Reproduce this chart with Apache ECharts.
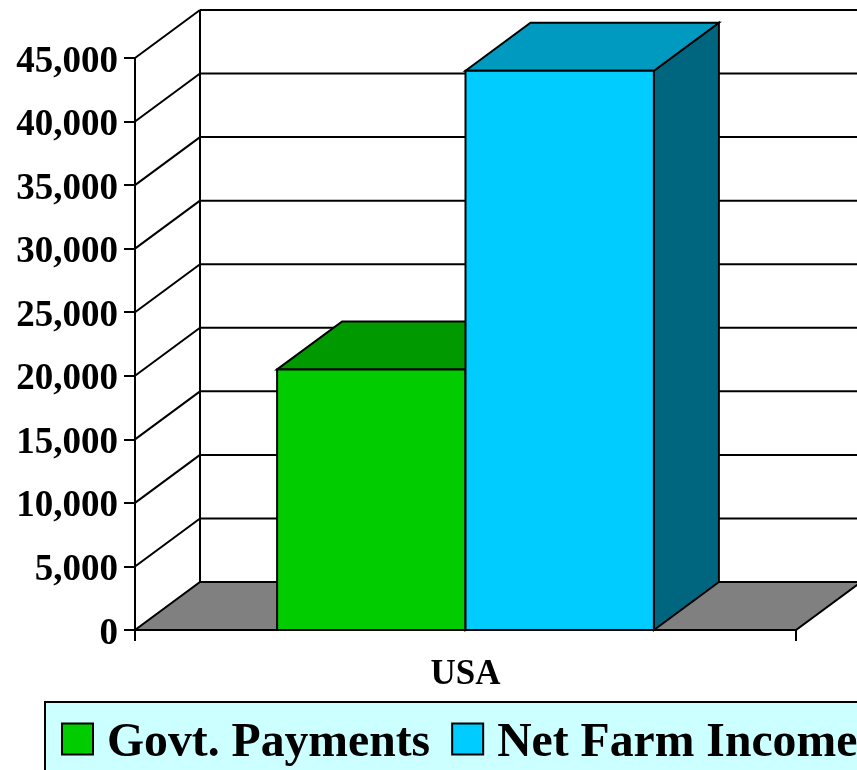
<!DOCTYPE html>
<html>
<head>
<meta charset="utf-8">
<title>USA</title>
<script src="https://cdn.jsdelivr.net/npm/echarts@6/dist/echarts.min.js"></script>
<style>
html, body { margin: 0; padding: 0; background: #fff; overflow: hidden; }
#chart { width: 857px; height: 770px; }
</style>
</head>
<body>
<div id="chart"></div>
<script>
var categories = ['USA'];
var seriesNames = ['Govt. Payments', 'Net Farm Income'];
var govtPayments = [20500];
var netFarmIncome = [44000];
var tickValues = [0, 5000, 10000, 15000, 20000, 25000, 30000, 35000, 40000, 45000];

var fontName = '"Liberation Serif", "Times New Roman", serif';
var depthX = 65;
var depthY = -48;
var barShare = 0.285;
var xTickLength = 11;

function line_shape(x1, y1, x2, y2) {
    return {
        type: 'line',
        shape: {x1: x1, y1: y1, x2: x2, y2: y2},
        style: {stroke: '#000', lineWidth: 2, fill: null}
    };
}

function poly_shape(points, color) {
    return {
        type: 'polygon',
        shape: {points: points},
        style: {fill: color, stroke: '#000', lineWidth: 2, lineJoin: 'miter'}
    };
}

// 背面和左面的网格线
function render_wall(params, api) {
    var value = api.value(1);
    var p = api.coord([0, value]);
    var band = api.size([1, 0])[0];
    var left = p[0] - band / 2;
    var right = p[0] + band / 2;
    var children = [];
    if (value === 0) {
        var top = api.coord([0, tickValues[tickValues.length - 1]]);
        children.push(poly_shape([
            [left, p[1]], [right, p[1]],
            [right + depthX, p[1] + depthY], [left + depthX, p[1] + depthY]
        ], '#808080'));
        children.push(line_shape(left + depthX, p[1] + depthY, left + depthX, top[1] + depthY));
        // x轴两端的刻度
        children.push(line_shape(left, p[1], left, p[1] + xTickLength));
        children.push(line_shape(right, p[1], right, p[1] + xTickLength));
    } else {
        children.push(line_shape(left, p[1], left + depthX, p[1] + depthY));
        children.push(line_shape(left + depthX, p[1] + depthY, right + depthX, p[1] + depthY));
    }
    return {type: 'group', children: children};
}

function get_bar_render(offset, frontColor, topColor, sideColor) {
    return function (params, api) {
        var p = api.coord([api.value(0), api.value(1)]);
        var base = api.coord([api.value(0), 0]);
        var band = api.size([1, 0])[0];
        var width = band * barShare;
        var x1 = p[0] + offset * width;
        var x2 = x1 + width;
        return {
            type: 'group',
            children: [
                poly_shape([[x2, p[1]], [x2 + depthX, p[1] + depthY], [x2 + depthX, base[1] + depthY], [x2, base[1]]], sideColor),
                poly_shape([[x1, p[1]], [x1 + depthX, p[1] + depthY], [x2 + depthX, p[1] + depthY], [x2, p[1]]], topColor),
                poly_shape([[x1, p[1]], [x2, p[1]], [x2, base[1]], [x1, base[1]]], frontColor)
            ]
        };
    };
}

function get_option() {
    var wallData = [];
    for (var i = 0; i < tickValues.length; i++) {
        wallData.push([0, tickValues[i]]);
    }
    return {
        animation: false,
        backgroundColor: '#fff',
        legend: {
            left: 45,
            top: 702,
            width: 1000,
            padding: [18, 40, 20, 16],
            itemGap: 21,
            itemWidth: 31,
            itemHeight: 31,
            icon: 'rect',
            backgroundColor: '#ccffff',
            borderColor: '#000',
            borderWidth: 2,
            itemStyle: {borderColor: '#000', borderWidth: 2},
            formatter: '{t|{name}}',
            textStyle: {
                fontFamily: fontName,
                fontWeight: 'bold',
                fontSize: 47.7,
                color: '#000',
                rich: {
                    t: {
                        fontFamily: fontName,
                        fontWeight: 'bold',
                        fontSize: 47.7,
                        color: '#000',
                        padding: [10, 0, 0, 9]
                    }
                }
            },
            data: seriesNames
        },
        grid: {left: 135, top: 58, width: 661, height: 572},
        xAxis: {
            type: 'category',
            data: categories,
            axisLine: {lineStyle: {color: '#000', width: 2}},
            axisTick: {show: false},
            axisLabel: {
                margin: 27,
                color: '#000',
                fontFamily: fontName,
                fontWeight: 'bold',
                fontSize: 35
            }
        },
        yAxis: {
            type: 'value',
            min: 0,
            max: 45000,
            interval: 5000,
            splitLine: {show: false},
            axisLine: {show: true, lineStyle: {color: '#000', width: 2}},
            axisTick: {show: true, length: 11, lineStyle: {color: '#000', width: 2}},
            axisLabel: {
                margin: 17,
                formatter: function (v) {
                    return '{t|' + v.toString().replace(/\B(?=(\d{3})+$)/g, ',') + '}';
                },
                rich: {
                    t: {
                        color: '#000',
                        fontFamily: fontName,
                        fontWeight: 'bold',
                        fontSize: 37,
                        padding: [8, 0, 0, 0]
                    }
                }
            }
        },
        series: [
            {
                name: 'walls',
                type: 'custom',
                renderItem: render_wall,
                encode: {x: 0, y: 1},
                data: wallData,
                silent: true,
                z: 1
            },
            {
                name: seriesNames[0],
                type: 'custom',
                renderItem: get_bar_render(-1, '#00cc00', '#009900', '#006600'),
                encode: {x: 0, y: 1},
                itemStyle: {color: '#00cc00'},
                data: [[0, govtPayments[0]]],
                z: 2
            },
            {
                name: seriesNames[1],
                type: 'custom',
                renderItem: get_bar_render(0, '#00ccff', '#0099bf', '#006680'),
                encode: {x: 0, y: 1},
                itemStyle: {color: '#00ccff'},
                data: [[0, netFarmIncome[0]]],
                z: 3
            }
        ]
    };
}

var myChart = echarts.init(document.getElementById('chart'));
myChart.setOption(get_option());
</script>
</body>
</html>
